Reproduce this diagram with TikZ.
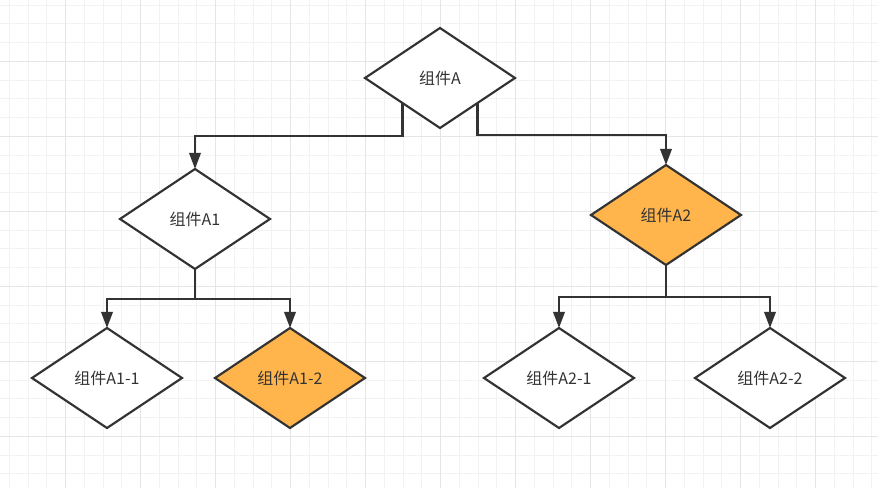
\documentclass[tikz,border=0pt]{standalone}
\usepackage{fontspec}
\newfontfamily\cjk{Noto Sans CJK SC}
\usetikzlibrary{shapes.geometric,arrows.meta}
\definecolor{ink}{HTML}{333333}
\definecolor{orangefill}{HTML}{FFB54C}
\definecolor{gridminor}{HTML}{F2F2F2}
\definecolor{gridmajor}{HTML}{E5E5E5}
\begin{document}
\begin{tikzpicture}[x=0.75pt,y=-0.75pt,
  part/.style={diamond,draw=ink,line width=1.6pt,fill=white,inner sep=0pt,outer sep=0pt,
    minimum width=112.5pt,minimum height=75pt,font=\cjk\fontsize{12}{14}\selectfont,text=ink},
  hot/.style={part,fill=orangefill},
  link/.style={draw=ink,line width=1.8pt,-{Triangle[length=12pt,width=8.5pt]}}]
\useasboundingbox (0,0) rectangle (878,488);
\fill[white] (0,0) rectangle (878,488);

\foreach \x in {9.45,28.2,...,878}
\draw[gridminor,line width=0.75pt] (\x,0) -- (\x,488);
\foreach \y in {5.05,23.8,...,488}
\draw[gridminor,line width=0.75pt] (0,\y) -- (878,\y);
\foreach \x in {65.7,140.7,...,878}
\draw[gridmajor,line width=0.75pt] (\x,0) -- (\x,488);
\foreach \y in {61.3,136.3,...,488}
\draw[gridmajor,line width=0.75pt] (0,\y) -- (878,\y);

\node[part] (A) at (440,78) {组件A};
\node[part] (A1) at (195,219) {组件A1};
\node[hot] (A2) at (666,215) {组件A2};
\node[part] (A11) at (107,378) {组件A1-1};
\node[hot] (A12) at (290,378) {组件A1-2};
\node[part] (A21) at (559,378) {组件A2-1};
\node[part] (A22) at (770,378) {组件A2-2};

\draw[link] (A.south west) -- ++(0,33) -| (A1.north);
\draw[link] (A.south east) -- ++(0,32) -| (A2.north);
\draw[link] (A1.south) -- ++(0,30) -| (A11.north);
\draw[link] (A1.south) -- ++(0,30) -| (A12.north);
\draw[link] (A2.south) -- ++(0,32) -| (A21.north);
\draw[link] (A2.south) -- ++(0,32) -| (A22.north);
\end{tikzpicture}
\end{document}
